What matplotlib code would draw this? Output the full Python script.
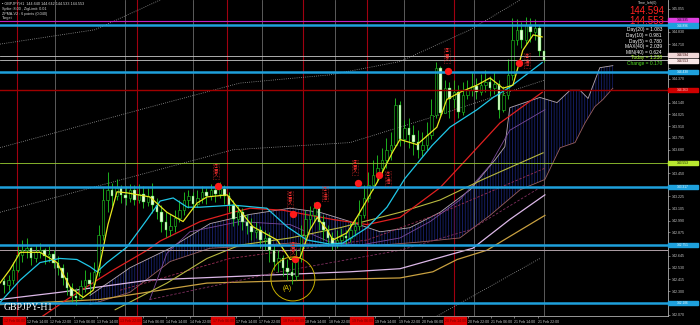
import matplotlib
matplotlib.use("Agg")
import matplotlib.pyplot as plt
from matplotlib.patches import Polygon, Rectangle
import numpy as np

plt.rcParams["font.family"] = ["Liberation Sans", "DejaVu Sans"]
plt.rcParams["hatch.linewidth"] = 0.6

# ---- GBPJPY H1 candles (bar index 0..120) ----
first_open = 142.40
closes = [142.36, 142.41, 142.51, 142.65, 142.70, 142.72, 142.62, 142.68, 142.70, 142.64,
          142.66, 142.58, 142.53, 142.43, 142.33, 142.25, 142.23, 142.35, 142.41, 142.37,
          142.49, 142.85, 143.19, 143.29, 143.23, 143.31, 143.24, 143.21, 143.29, 143.19,
          143.25, 143.17, 143.23, 143.14, 143.07, 142.98, 142.90, 142.94, 143.01, 143.09,
          143.19, 143.23, 143.15, 143.21, 143.27, 143.23, 143.29, 143.25, 143.30, 143.23,
          143.14, 143.00, 143.07, 142.98, 142.94, 142.88, 142.90, 142.80, 142.82, 142.70,
          142.59, 142.62, 142.53, 142.49, 142.45, 142.62, 142.85, 143.00, 143.04, 143.11,
          142.98, 142.90, 142.82, 142.76, 142.80, 142.84, 142.82, 142.90, 142.94, 143.04,
          143.21, 143.34, 143.43, 143.50, 143.58, 143.68, 143.73, 144.12, 143.78, 143.89,
          143.82, 143.76, 143.68, 143.73, 143.82, 144.02, 144.48, 144.04, 144.28, 144.17,
          144.24, 144.05, 144.21, 144.26, 144.30, 144.24, 144.31, 144.34, 144.28, 144.32,
          144.07, 144.21, 144.41, 144.75, 144.85, 144.75, 144.90, 144.83, 144.87, 144.640,
          144.553]
highs = [142.43, 142.46, 142.59, 142.75, 142.80, 142.82, 142.73, 142.75, 142.77, 142.72,
         142.74, 142.70, 142.64, 142.57, 142.49, 142.38, 142.33, 142.41, 142.51, 142.49,
         142.59, 142.95, 143.31, 143.46, 143.36, 143.39, 143.34, 143.33, 143.35, 143.34,
         143.35, 143.33, 143.31, 143.36, 143.21, 143.14, 143.07, 143.05, 143.09, 143.19,
         143.27, 143.29, 143.27, 143.29, 143.33, 143.31, 143.35, 143.33, 143.37, 143.34,
         143.27, 143.19, 143.14, 143.11, 143.05, 143.01, 142.98, 142.94, 142.90, 142.88,
         142.75, 142.70, 142.65, 142.61, 142.59, 142.70, 142.95, 143.09, 143.13, 143.17,
         143.15, 143.04, 142.95, 142.88, 142.90, 142.92, 142.90, 142.98, 143.01, 143.19,
         143.34, 143.46, 143.58, 143.63, 143.70, 143.79, 143.85, 144.18, 144.16, 143.97,
         143.99, 143.92, 143.87, 143.85, 143.95, 144.17, 144.54, 144.50, 144.36, 144.34,
         144.36, 144.31, 144.34, 144.36, 144.44, 144.38, 144.42, 144.46, 144.40, 144.44,
         144.36, 144.30, 144.56, 144.96, 144.95, 144.93, 144.97, 144.96, 144.95, 144.90,
         144.642]
lows = [142.28, 142.31, 142.37, 142.49, 142.59, 142.62, 142.56, 142.59, 142.62, 142.57,
        142.59, 142.53, 142.46, 142.36, 142.26, 142.20, 142.17, 142.22, 142.29, 142.27,
        142.33, 142.45, 142.80, 143.07, 143.13, 143.19, 143.16, 143.14, 143.17, 143.14,
        143.16, 143.11, 143.13, 143.06, 143.00, 142.88, 142.83, 142.84, 142.88, 142.98,
        143.04, 143.11, 143.09, 143.12, 143.16, 143.15, 143.19, 143.17, 143.21, 143.15,
        143.07, 142.94, 142.95, 142.90, 142.86, 142.80, 142.82, 142.72, 142.70, 142.59,
        142.51, 142.49, 142.45, 142.41, 142.37, 142.41, 142.59, 142.80, 142.92, 142.98,
        142.90, 142.80, 142.74, 142.70, 142.72, 142.74, 142.75, 142.78, 142.84, 142.90,
        143.01, 143.17, 143.29, 143.37, 143.43, 143.50, 143.58, 143.71, 143.72, 143.75,
        143.70, 143.63, 143.60, 143.62, 143.68, 143.78, 143.99, 144.01, 144.04, 143.99,
        144.09, 143.99, 144.02, 144.17, 144.20, 144.17, 144.21, 144.24, 144.20, 144.22,
        143.99, 144.05, 144.17, 144.36, 144.70, 144.67, 144.71, 144.73, 144.75, 144.59,
        144.533]

# ---- indicator lines (bar, price) ----
ma_fast_x = [-0.9, 1.3, 3.6, 8, 11.8, 14.7, 17.6, 19.8, 21.3, 23.1, 25.1, 27.3, 32.4, 36.2,
             39.8, 42.9, 45.1, 49.6, 52.4, 55.3, 60.7, 63.6, 65.8, 68, 69.6, 71.8, 73.1, 76.2,
             78.4, 82.9, 86.4, 88, 91.8, 96.2, 98.4, 101.3, 105.1, 108, 110.9, 113.1, 115.3,
             117.6, 119.6]
ma_fast_y = [142.38, 142.51, 142.68, 142.68, 142.58, 142.34, 142.24, 142.31, 142.56, 142.95,
             143.27, 143.26, 143.22, 143.07, 142.98, 143.16, 143.22, 143.24, 143.09, 142.93,
             142.80, 142.61, 142.63, 142.90, 143.02, 142.90, 142.80, 142.87, 143.02, 143.36,
             143.66, 143.78, 143.73, 143.90, 144.17, 144.24, 144.31, 144.38, 144.28, 144.31,
             144.65, 144.80, 144.78]
ma_mid_x = [-0.9, 3.6, 8, 12.4, 16.2, 19.1, 20.7, 22.9, 27.3, 31.8, 34.7, 37.6, 40.7, 43.6,
            50.9, 58.4, 62.9, 67.3, 72.4, 75.3, 80.7, 85.1, 89.1, 95.1, 99.1, 105.1, 108.7,
            112.4, 119.6]
ma_mid_y = [142.19, 142.41, 142.58, 142.62, 142.61, 142.54, 142.49, 142.58, 142.73, 143.00,
            143.18, 143.21, 143.12, 143.12, 143.14, 143.11, 142.93, 142.80, 142.76, 142.77,
            142.92, 143.12, 143.40, 143.72, 143.90, 144.07, 144.19, 144.29, 144.53]
ma_red_x = [8, 14, 23.6, 31.8, 34.7, 43.6, 50.9, 54.7, 62, 73.1, 80.7, 88, 96.9, 102, 110.2, 119.6]
ma_red_y = [142.04, 142.22, 142.49, 142.70, 142.79, 142.98, 143.07, 143.11, 143.09, 143.00,
            142.95, 143.02, 143.31, 143.55, 143.94, 144.24]
ma_olive_x = [24.7, 36.2, 45.1, 52.4, 63.6, 74.7, 88, 96.9, 106.4, 119.8]
ma_olive_y = [142.12, 142.38, 142.62, 142.75, 142.82, 142.92, 143.07, 143.19, 143.39, 143.65]
ma_lav_x = [-0.9, 12.4, 32.4, 59.8, 76.9, 88, 95.3, 104.2, 112.4, 120.2]
ma_lav_y = [142.22, 142.29, 142.41, 142.46, 142.49, 142.52, 142.61, 142.72, 143.00, 143.24]
ma_tan_x = [-0.9, 21.3, 45.1, 76.9, 88, 95.3, 100.7, 107.3, 120.2]
ma_tan_y = [142.17, 142.22, 142.38, 142.42, 142.43, 142.49, 142.61, 142.70, 143.04]
dash1_x = [25.8, 50.2, 80.7, 96.9, 120.2]
dash1_y = [142.31, 142.62, 142.80, 143.06, 143.50]
dash2_x = [32.4, 61.3, 88, 103.6, 120.2]
dash2_y = [142.22, 142.49, 142.70, 142.90, 143.34]
kijun_x = [32.4, 36.2, 41.3, 52.4, 63.6, 72.4, 79.1, 88, 94.7, 101.3, 108, 112.4, 120.2]
kijun_y = [142.22, 142.67, 142.88, 142.98, 142.95, 142.78, 142.75, 142.82, 142.98, 143.19,
           143.53, 143.87, 144.07]

span_a_x = [19.1, 28, 36.9, 45.8, 54.7, 63.6, 70.2, 76.9, 83.6, 90.2, 96.9, 103.6, 109.1,
            111.3, 112.4, 119.1, 122.9, 125.8, 128, 129.8, 132.4, 135.3]
span_a_y = [142.26, 142.53, 142.72, 142.96, 143.05, 143.11, 143.07, 142.98, 142.88, 142.92,
            143.07, 143.29, 143.58, 143.71, 144.09, 144.19, 144.14, 144.26, 144.26, 144.18,
            144.48, 144.50]
span_b_x = [19.1, 28, 36.9, 45.8, 54.7, 63.6, 72.4, 83.6, 92.4, 101.3, 108, 114.7, 120.2,
            123.6, 126.9, 129.1, 131.3, 133.1, 135.3]
span_b_y = [142.17, 142.29, 142.59, 142.72, 142.74, 142.77, 142.75, 142.75, 142.78, 142.82,
            143.04, 143.29, 143.39, 143.70, 143.75, 143.94, 144.10, 144.17, 144.28]

env_lines = [
    ([-0.9, 20.2, 34.7], [144.71, 144.85, 145.14]),
    ([-0.9, 30.2, 52.4, 72.4, 88, 103.6, 114.7], [143.70, 144.07, 144.33, 144.41, 144.54, 144.85, 145.14]),
    ([-0.9, 50.9, 76.9, 95.3, 120.2], [143.07, 143.68, 143.75, 144.00, 144.36]),
    ([65.8, 94.7, 119.1], [141.73, 142.02, 142.62]),
]

# trade signals
sig_x = [47.6, 64.2, 64.7, 69.6, 78.7, 83.3, 98.7, 114.4]
sig_y = [143.33, 143.05, 142.61, 143.14, 143.36, 143.43, 144.45, 144.53]
sig_lx = [47.1, 63.6, 64.2, 71.3, 78.0, 85.3, 98.4, 116.2]
sig_ly = [143.47, 143.20, 142.71, 143.25, 143.51, 143.40, 144.60, 144.55]
sig_text = ["①買入", "②買入", "③買入", "①決済", "④買入", "②決済", "⑤買入", "③決済"]

# horizontal levels: price, colour, width, right-axis box colour, box text colour, box shift
levels = [
    (144.935, "#c020c0", 0.8, "#e040e0", "#200020", 0.012),
    (144.896, "#1ea0dc", 1.8, "#1ea0dc", "#e8f8ff", -0.006),
    (144.594, "#c8c8c8", 0.6, "#f0d8d8", "#300000", 0.008),
    (144.553, "#c8c8c8", 0.6, "#f8e8e8", "#300000", -0.006),
    (144.438, "#1ea0dc", 1.8, "#1ea0dc", "#e8f8ff", 0.0),
    (144.263, "#a00000", 1.0, "#d00000", "#ffd0d0", 0.0),
    (143.553, "#9acd32", 0.6, "#b8e830", "#102000", 0.0),
    (143.317, "#1ea0dc", 1.8, "#1ea0dc", "#e8f8ff", 0.0),
    (142.751, "#1ea0dc", 1.8, "#1ea0dc", "#e8f8ff", 0.0),
    (142.186, "#1ea0dc", 1.8, "#1ea0dc", "#e8f8ff", 0.0),
]
level_plain = [142.70]

red_vlines = [2.9, 29.6, 49.6, 66.4, 80.7, 100.0]
gray_vlines = [11.3, 26.9, 42.0, 57.3, 73.6, 88.9, 104.4, 120.0]

price_ticks = [145.055, 144.940, 144.830, 144.710, 144.595, 144.480, 144.370, 144.255,
               144.140, 144.025, 143.910, 143.795, 143.680, 143.565, 143.450, 143.335,
               143.225, 143.105, 142.990, 142.875, 142.760, 142.645, 142.530, 142.415,
               142.300, 142.185, 142.070]
time_ticks = [0, 5.2, 10.3, 15.5, 20.6, 25.8, 30.9, 36.1, 41.3, 46.4, 51.6, 56.7, 61.9,
              67.0, 72.2, 77.3, 82.5, 87.7, 92.8, 98.0, 103.1, 108.3, 113.4, 118.6]
time_labels = ["12 Feb 06:00", "12 Feb 14:00", "12 Feb 22:00", "13 Feb 06:00", "13 Feb 14:00",
               "13 Feb 22:00", "14 Feb 06:00", "14 Feb 14:00", "14 Feb 22:00", "17 Feb 06:00",
               "17 Feb 14:00", "17 Feb 22:00", "18 Feb 06:00", "18 Feb 14:00", "18 Feb 22:00",
               "19 Feb 06:00", "19 Feb 14:00", "19 Feb 22:00", "20 Feb 06:00", "20 Feb 14:00",
               "20 Feb 22:00", "21 Feb 06:00", "21 Feb 14:00", "21 Feb 22:00"]
# time labels drawn on a red highlight (session marks)
red_label_idx = [0, 5, 9, 12, 15, 19]

stats_labels = ["Day(20) = 1.083", "Day(10) = 0.981", "Day(5) = 0.780", "MAX(40) = 2.039",
                "MIN(40) = 0.624", "Today = 1.238", "Change = 0.170"]
stats_colors = ["white"] * 5 + ["#b0ff30", "#50e020"]


def main():
    fig = plt.figure(figsize=(7, 3.25), dpi=100, facecolor="black")
    ax = fig.add_axes([0.0, 9 / 325, 668 / 700, 316 / 325])
    ax.set_facecolor("black")
    ax.set_xlim(-0.89, 147.56)
    ax.set_ylim(142.059, 145.14)
    for s in ("left", "top"):
        ax.spines[s].set_visible(False)
    for s in ("right", "bottom"):
        ax.spines[s].set_color("#b0b0b0")
        ax.spines[s].set_linewidth(0.6)

    # right price scale: labels hidden under a level box are left out
    level_prices = [lv[0] for lv in levels]
    ax.yaxis.tick_right()
    ax.set_yticks(price_ticks)
    ax.set_yticklabels(["" if min(abs(p - q) for q in level_prices) < 0.045 else f"{p:.3f}"
                        for p in price_ticks])
    ax.tick_params(axis="y", colors="#c8c8c8", labelsize=2.6, length=1.5, width=0.4, pad=1.2)

    ax.set_xticks(time_ticks)
    ax.set_xticklabels(["" if i in red_label_idx else t for i, t in enumerate(time_labels)],
                       ha="left")
    ax.tick_params(axis="x", colors="#c8c8c8", labelsize=2.6, length=1.5, width=0.4, pad=1.2)
    for i in red_label_idx:
        ax.add_patch(Rectangle((time_ticks[i] - 0.3, -0.026), 5.0, 0.022,
                               transform=ax.get_xaxis_transform(), color="#e00000",
                               clip_on=False, zorder=3))
        ax.text(time_ticks[i], -0.015, time_labels[i], transform=ax.get_xaxis_transform(),
                fontsize=2.6, color="#700000", ha="left", va="center", clip_on=False, zorder=4)

    # vertical separators
    for x in gray_vlines:
        ax.axvline(x, color="#6a6a6a", lw=0.6, zorder=1)
    for x in red_vlines:
        ax.axvline(x, color="#a00010", lw=0.8, zorder=1)

    # ichimoku cloud
    poly = np.column_stack([span_a_x + span_b_x[::-1], span_a_y + span_b_y[::-1]])
    ax.add_patch(Polygon(poly, closed=True, fill=False, hatch="||||||",
                         edgecolor="#18226e", lw=0, zorder=2))
    ax.plot(span_a_x, span_a_y, color="#b8a8b0", lw=0.6, zorder=2)
    ax.plot(span_b_x, span_b_y, color="#9a6060", lw=0.6, zorder=2)

    # envelope dotted lines
    for xs, ys in env_lines:
        ax.plot(xs, ys, color="#9a9a9a", lw=0.6, ls=(0, (1, 1.6)), zorder=2)

    # slow lines
    ax.plot(ma_tan_x, ma_tan_y, color="#c8a040", lw=0.9, zorder=3)
    ax.plot(ma_lav_x, ma_lav_y, color="#dcb8e8", lw=0.9, zorder=3)
    ax.plot(dash1_x, dash1_y, color="#a03058", lw=0.6, ls=(0, (3, 2)), zorder=3)
    ax.plot(dash2_x, dash2_y, color="#803060", lw=0.6, ls=(0, (3, 2)), zorder=3)
    ax.plot(kijun_x, kijun_y, color="#7a4a9a", lw=0.6, zorder=3)
    ax.plot(ma_olive_x, ma_olive_y, color="#b8b840", lw=0.8, zorder=3)
    ax.plot(ma_red_x, ma_red_y, color="#e02020", lw=0.9, zorder=3)

    # candles (MT4 green-on-black: bull hollow, bear filled)
    c = np.array(closes)
    o = np.array([first_open] + closes[:-1])
    bars = np.arange(len(c))
    ax.vlines(bars, lows, highs, color="#22cc22", lw=0.6, zorder=5)
    up = c >= o
    bottom = np.minimum(o, c)
    height = np.abs(c - o)
    ax.bar(bars[up], height[up], bottom=bottom[up], width=0.55, color="black",
           edgecolor="#22cc22", lw=0.4, zorder=6)
    ax.bar(bars[~up], height[~up], bottom=bottom[~up], width=0.55, color="#e8ffd8",
           edgecolor="#22cc22", lw=0.3, zorder=6)

    # fast lines
    ax.plot(ma_mid_x, ma_mid_y, color="#20c8e8", lw=0.9, zorder=7)
    ax.plot(ma_fast_x, ma_fast_y, color="#e8e820", lw=0.9, zorder=7)

    # horizontal levels + right-axis boxes
    for p, col, lw, box, tcol, shift in levels:
        ax.axhline(p, color=col, lw=lw, zorder=7)
        ax.add_patch(Rectangle((1.0, p + shift - 0.021), 0.045, 0.042,
                               transform=ax.get_yaxis_transform(), color=box,
                               clip_on=False, zorder=8))
        ax.text(1.022, p + shift, f"{p:.3f}", transform=ax.get_yaxis_transform(), fontsize=2.3,
                color=tcol, ha="center", va="center", clip_on=False, zorder=9)
    for p in level_plain:
        ax.axhline(p, color="#b0a0a8", lw=0.7, zorder=4)

    # signals
    ax.scatter(sig_x, sig_y, s=28, color="#ff1a1a", zorder=9, linewidths=0)
    for x, y, t in zip(sig_lx, sig_ly, sig_text):
        ax.text(x, y, "\n".join(t), fontsize=3.2, color="#ff3030", ha="center", va="center",
                family=["Noto Sans CJK JP", "DejaVu Sans"], linespacing=0.85, zorder=9,
                bbox=dict(boxstyle="square,pad=0.15", fc="none", ec="#ff3030", ls=":", lw=0.4))

    # (A) circle around the low
    ax.scatter([64.2], [142.42], s=1000, facecolors="none", edgecolors="#c8b000",
               linewidths=0.7, zorder=9)
    ax.text(62.9, 142.33, "(A)", fontsize=5, color="#d8c000", ha="center", va="center", zorder=9)

    # header texts
    head = ["\u25aa GBPJPY,H1  144.640 144.642 144.533 144.553",
            "Spike: 8.00 , ZigLimit: 0.01",
            "ZPMA-V2 : 6 points (0.040)",
            "Target"]
    for i, t in enumerate(head):
        fig.text(2 / 700, 1 - (4 + 4.8 * i) / 325, t, fontsize=2.7, color="#d8d8d8",
                 ha="left", va="center")

    fig.text(657 / 700, 1 - 3.2 / 325, "Time_left(0)", fontsize=2.6, color="#d8d8d8",
             ha="right", va="center")
    fig.text(664 / 700, 1 - 11.5 / 325, "144.594", fontsize=7, color="#ff2020",
             ha="right", va="center")
    fig.text(664 / 700, 1 - 21 / 325, "144.553", fontsize=7, color="#ff2020",
             ha="right", va="center")
    for i, (t, col) in enumerate(zip(stats_labels, stats_colors)):
        fig.text(662 / 700, 1 - (30 + 5.6 * i) / 325, t, fontsize=3.5, color=col,
                 ha="right", va="center")

    fig.text(4 / 700, 1 - 307 / 325, "GBPJPY-H1", fontsize=7, color="white",
             family=["Liberation Serif", "DejaVu Serif"], ha="left", va="center")

    fig.savefig("out.png", dpi=100, facecolor="black")
    plt.close(fig)


if __name__ == "__main__":
    main()
